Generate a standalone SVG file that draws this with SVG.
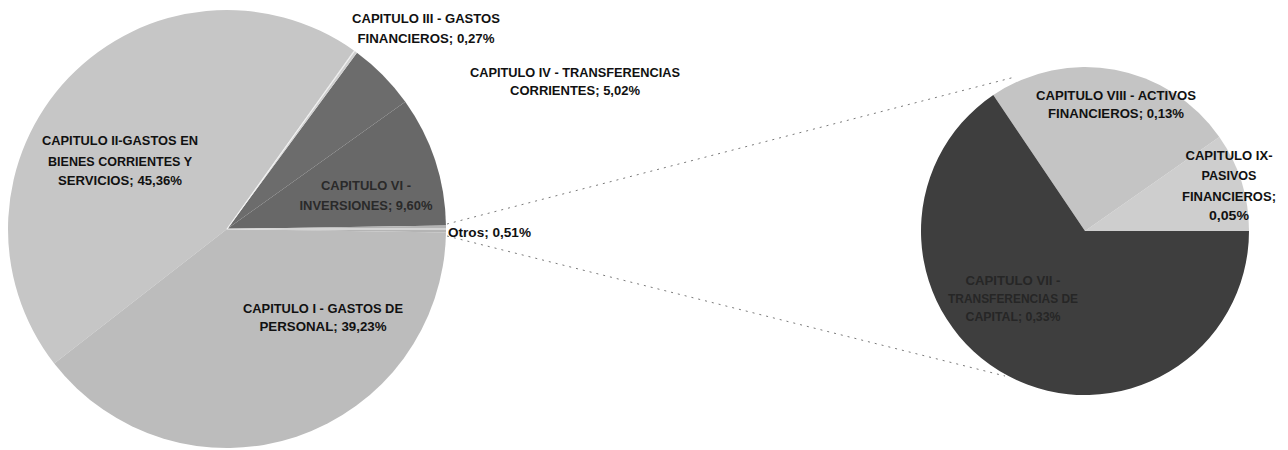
<svg xmlns="http://www.w3.org/2000/svg" width="1288" height="450" viewBox="0 0 1288 450">
<style>
  .sl { stroke: none; }
  .edge { stroke: #f2f2f2; stroke-width: 1.2; fill: none; }
  .lbl { font-family: "Liberation Sans", Arial, sans-serif; font-weight: bold; font-size: 13px; fill: #111111; text-anchor: middle; }
  .dk { fill: #2a2a2a; }
  .dk2 { fill: #262626; }
  .conn { stroke: #7a7a7a; stroke-width: 1; stroke-dasharray: 2 5; fill: none; }
</style>
<rect width="1288" height="450" fill="#ffffff"/>

<g id="connectors">
  <line class="conn" x1="447" y1="224" x2="1015" y2="77"/>
  <line class="conn" x1="447" y1="236" x2="1005" y2="376"/>
</g>

<g id="main-pie">
  <g id="slice-vi"><path class="sl" fill="#686868" d="M227 229 L445.97 225.48 A219 219 0 0 0 405.29 101.83 Z"/></g>
  <g id="slice-iv"><path class="sl" fill="#6c6c6c" d="M227 229 L405.29 101.83 A219 219 0 0 0 356.96 52.73 Z"/></g>
  <g id="slice-iii"><path class="sl" fill="#d0d0d0" d="M227 229 L356.96 52.73 A219 219 0 0 0 353.86 50.49 Z"/></g>
  <g id="slice-ii"><path class="sl" fill="#c6c6c6" d="M227 229 L353.86 50.49 A219 219 0 0 0 54.19 363.53 Z"/></g>
  <g id="slice-i"><path class="sl" fill="#bcbcbc" d="M227 229 L54.19 363.53 A219 219 0 0 0 445.97 232.52 Z"/></g>
  <g id="slice-otros"><path class="sl" fill="#b4b4b4" d="M227 229 L445.97 232.52 A219 219 0 0 0 445.97 225.48 Z"/></g>
  <path class="edge" d="M227 229 L446 229 M227 229 L354.5 51"/>
</g>

<g id="second-pie">
  <g id="slice-ix"><path class="sl" fill="#cecece" d="M1085 231 L1249 231 A164 164 0 0 0 1219.34 136.93 Z"/></g>
  <g id="slice-viii"><path class="sl" fill="#c4c4c4" d="M1085 231 L1219.34 136.93 A164 164 0 0 0 993.29 95.04 Z"/></g>
  <g id="slice-vii"><path class="sl" fill="#3e3e3e" d="M1085 231 L993.29 95.04 A164 164 0 1 0 1249 231 Z"/></g>
</g>

<g id="label-iii">
  <text class="lbl" x="426" y="23" textLength="148" lengthAdjust="spacingAndGlyphs">CAPITULO III - GASTOS</text>
  <text class="lbl" x="426" y="43" textLength="137" lengthAdjust="spacingAndGlyphs">FINANCIEROS; 0,27%</text>
</g>
<g id="label-iv">
  <text class="lbl" x="575" y="77" textLength="210" lengthAdjust="spacingAndGlyphs">CAPITULO IV - TRANSFERENCIAS</text>
  <text class="lbl" x="575" y="95" textLength="130" lengthAdjust="spacingAndGlyphs">CORRIENTES; 5,02%</text>
</g>
<g id="label-ii">
  <text class="lbl" x="120" y="145" textLength="156" lengthAdjust="spacingAndGlyphs">CAPITULO II-GASTOS EN</text>
  <text class="lbl" x="120" y="166" textLength="144" lengthAdjust="spacingAndGlyphs">BIENES CORRIENTES Y</text>
  <text class="lbl" x="120" y="185" textLength="124" lengthAdjust="spacingAndGlyphs">SERVICIOS; 45,36%</text>
</g>
<g id="label-vi">
  <text class="lbl dk" x="366" y="190" textLength="90" lengthAdjust="spacingAndGlyphs">CAPITULO VI -</text>
  <text class="lbl dk" x="366" y="210" textLength="133" lengthAdjust="spacingAndGlyphs">INVERSIONES; 9,60%</text>
</g>
<g id="label-i">
  <text class="lbl" x="323" y="313" textLength="160" lengthAdjust="spacingAndGlyphs">CAPITULO I - GASTOS DE</text>
  <text class="lbl" x="323" y="331" textLength="127" lengthAdjust="spacingAndGlyphs">PERSONAL; 39,23%</text>
</g>
<g id="label-otros">
  <text class="lbl" x="448" y="237" style="text-anchor:start" textLength="83" lengthAdjust="spacingAndGlyphs">Otros; 0,51%</text>
</g>
<g id="label-viii">
  <text class="lbl" x="1116" y="100" textLength="160" lengthAdjust="spacingAndGlyphs">CAPITULO VIII - ACTIVOS</text>
  <text class="lbl" x="1116" y="118" textLength="136" lengthAdjust="spacingAndGlyphs">FINANCIEROS; 0,13%</text>
</g>
<g id="label-ix">
  <text class="lbl" x="1229" y="160" textLength="87" lengthAdjust="spacingAndGlyphs">CAPITULO IX-</text>
  <text class="lbl" x="1229" y="180" textLength="55" lengthAdjust="spacingAndGlyphs">PASIVOS</text>
  <text class="lbl" x="1229" y="201" textLength="94" lengthAdjust="spacingAndGlyphs">FINANCIEROS;</text>
  <text class="lbl" x="1229" y="220" textLength="40" lengthAdjust="spacingAndGlyphs">0,05%</text>
</g>
<g id="label-vii">
  <text class="lbl dk2" x="1013" y="285" textLength="95" lengthAdjust="spacingAndGlyphs">CAPITULO VII -</text>
  <text class="lbl dk2" x="1013" y="303" textLength="130" lengthAdjust="spacingAndGlyphs">TRANSFERENCIAS DE</text>
  <text class="lbl dk2" x="1013" y="321" textLength="95" lengthAdjust="spacingAndGlyphs">CAPITAL; 0,33%</text>
</g>
</svg>
